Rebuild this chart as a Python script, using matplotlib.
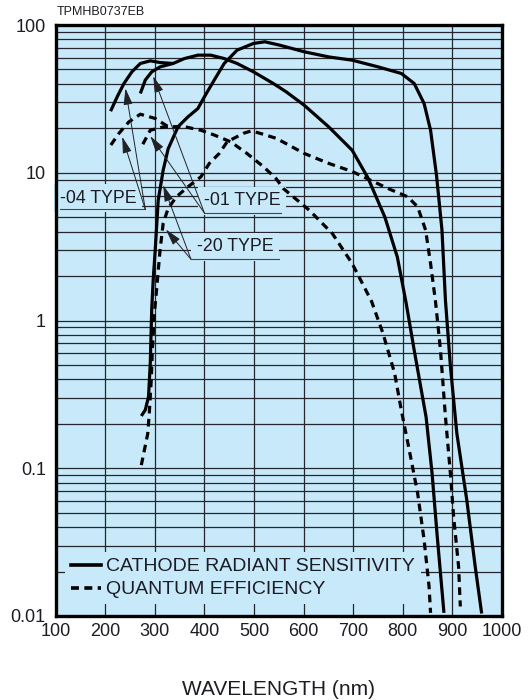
import numpy as np
import matplotlib
matplotlib.use('Agg')
import matplotlib.pyplot as plt
from matplotlib.ticker import LogLocator, NullFormatter, FixedLocator, FuncFormatter

# Data
##############################################################################
# bialkali cathode radiant sensitivity (mA/W), -04 type (synthetic silica)
wl_rs_04 = [211, 225, 238, 254, 271, 291, 311, 337, 360, 387, 413, 440, 466,
            499, 539, 565, 601, 651, 698, 730, 764, 789, 807, 823, 847, 859,
            869, 883]
rs_04 = [26.1, 33.0, 40.2, 48.2, 54.9, 57.2, 55.7, 54.9, 59.3, 62.5, 62.5,
         59.3, 54.9, 48.2, 40.2, 35.3, 28.7, 20.4, 14.2, 9.2, 5.0, 2.69, 1.3,
         0.63, 0.222, 0.093, 0.036, 0.0105]
# -01 type (UV glass) joins the -04 curve above ~335 nm
wl_rs_01 = [271, 281, 294, 311, 337]
rs_01 = [34.4, 42.4, 48.2, 52.1, 54.9]
# multialkali, -20 type
wl_rs_20 = [273, 281, 287.5, 291, 294, 297, 301, 307, 317, 327, 347, 367, 387,
            400, 420, 440, 466, 499, 522, 552, 602, 651, 698, 750, 797, 823,
            843, 856, 868, 879, 886, 896, 909, 929, 946, 959]
rs_20 = [0.226, 0.248, 0.305, 0.51, 1.2, 1.9, 3.0, 6.5, 10.4, 14.5, 20.5,
         23.9, 27.2, 32.6, 42.4, 54.9, 67.6, 75.0, 77.0, 73.0, 65.8, 60.8,
         57.8, 52.1, 47.0, 40.2, 29.4, 19.4, 9.6, 4.09, 1.37, 0.49, 0.172,
         0.061, 0.0216, 0.0104]

# quantum efficiency (%)
wl_qe_04 = [211.5, 228, 248, 271, 301, 327, 360, 393, 420, 453, 486, 519, 545,
            559, 611.5, 658, 698, 737, 760, 783.5, 797, 813, 830, 843, 853, 856]
qe_04 = [15.4, 18.5, 22.1, 24.9, 23.3, 20.5, 20.5, 19.4, 18.0, 16.2, 13.5,
         11.0, 9.1, 7.83, 5.58, 3.88, 2.43, 1.35, 0.82, 0.44, 0.248, 0.133,
         0.0676, 0.0327, 0.0158, 0.0105]
wl_qe_01 = [276, 291, 317, 327]
qe_01 = [15.6, 19.4, 20.4, 20.5]
wl_qe_20 = [273, 286, 289, 293, 295.5, 299.4, 304, 310.7, 317, 327, 343.6, 367,
            393, 410, 430, 446, 479, 495, 512, 545, 601.6, 651, 698, 770, 810,
            830, 846, 856, 866, 876, 886, 896, 902.5, 912.5, 916]
qe_20 = [0.105, 0.172, 0.235, 0.395, 0.66, 1.12, 1.65, 2.99, 4.54, 5.73, 6.87,
         8.03, 9.38, 11.56, 13.5, 16.2, 18.5, 19.2, 18.5, 17.1, 13.5, 11.56,
         10.2, 7.83, 6.87, 5.88, 4.09, 2.43, 1.34, 0.63, 0.223, 0.092, 0.047,
         0.0216, 0.0116]

x_ticks = [100, 200, 300, 400, 500, 600, 700, 800, 900, 1000]
y_ticks = [0.01, 0.1, 1, 10, 100]

# Plot
##############################################################################
bg = '#c8e9f9'
ink = '#1c1c24'
plt.rcParams['font.family'] = ['Liberation Sans', 'DejaVu Sans']
plt.rcParams.update({'font.size': 12.5})

fig = plt.figure(figsize=(5.31, 7.0), dpi=100)
ax = fig.add_axes([55.5/531, 84/700, 446.5/531, 591/700])
ax.set_facecolor(bg)
ax.set_axisbelow(True)

ax.set_yscale('log')
ax.set_xlim(100, 1000)
ax.set_ylim(0.01, 100)
ax.xaxis.set_major_locator(FixedLocator(x_ticks))
ax.yaxis.set_major_locator(FixedLocator(y_ticks))
ax.yaxis.set_major_formatter(FuncFormatter(lambda v, p: '{:g}'.format(v)))
ax.yaxis.set_minor_locator(LogLocator(base=10, subs=range(2, 10)))
ax.yaxis.set_minor_formatter(NullFormatter())
ax.tick_params(which='both', length=0, colors=ink, labelsize=13)
ax.tick_params(axis='y', pad=7)
ax.tick_params(axis='x', pad=5)

ax.grid(which='both', axis='y', color='#26262e', lw=0.9)
ax.grid(which='major', axis='x', color='#26262e', lw=0.9)
for s in ax.spines.values():
    s.set_linewidth(2.4)
    s.set_color('black')

sol = dict(color='black', lw=2.3, zorder=3, solid_capstyle='butt')
dsh = dict(color='black', lw=2.3, zorder=3, ls=(0, (2.4, 1.7)), dash_capstyle='butt')
ax.plot(wl_rs_04, rs_04, **sol)
ax.plot(wl_rs_01, rs_01, **sol)
ax.plot(wl_rs_20, rs_20, **sol)
ax.plot(wl_qe_04, qe_04, **dsh)
ax.plot(wl_qe_01, qe_01, **dsh)
ax.plot(wl_qe_20, qe_20, **dsh)

# type labels with underline and leader arrows
labels = [('-04 TYPE', (186, 6.73), (109, 281), 5.65, [(241, 37.2), (234.5, 17.5)], 281),
          ('-01 TYPE', (476, 6.47), (400, 555), 5.35, [(297, 45.0), (291, 17.7)], 400),
          ('-20 TYPE', (462, 3.16), (373, 551), 2.6, [(317, 8.24), (322.6, 4.13)], 373)]
for txt, pos, (u0, u1), uy, tips, ox in labels:
    ax.text(pos[0], pos[1], txt, ha='center', va='center', color=ink,
            fontsize=12.8, zorder=2,
            bbox=dict(facecolor=bg, edgecolor='none', pad=4))
    ax.plot([u0, u1], [uy, uy], color='#44444e', lw=0.8, zorder=2.5)
    for t in tips:
        ax.annotate('', xy=t, xytext=(ox, uy), zorder=4,
                    arrowprops=dict(arrowstyle='-|>,head_length=0.8,head_width=0.22',
                                    color='#222226', lw=0.7, shrinkA=0, shrinkB=0))

ax.plot([], [], color='black', lw=2.6, label='CATHODE RADIANT SENSITIVITY')
ax.plot([], [], color='black', lw=2.6, ls=(0, (2.2, 1.5)), label='QUANTUM EFFICIENCY')
leg = ax.legend(loc='lower left', bbox_to_anchor=(0.022, 0.02), borderaxespad=0,
                frameon=True, facecolor=bg, edgecolor='none', framealpha=1,
                fontsize=14, handlelength=1.55, handletextpad=0.26,
                labelspacing=0.27, borderpad=0.3)
for t in leg.get_texts():
    t.set_color(ink)
leg.set_zorder(5)

ax.set_xlabel('WAVELENGTH (nm)', fontsize=15, color=ink, labelpad=29)
fig.text(57/531, 1 - 12/700, 'TPMHB0737EB', fontsize=9, color=ink, va='center')

fig.savefig('out.png', dpi=100)
